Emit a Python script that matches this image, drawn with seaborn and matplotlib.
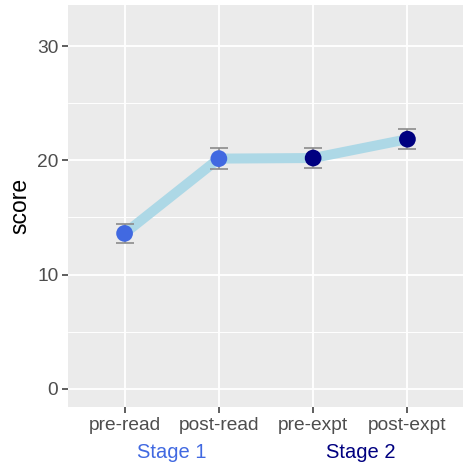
import matplotlib
matplotlib.use("Agg")
import matplotlib.pyplot as plt
import seaborn as sns
import pandas as pd
import numpy as np

conditions = ["pre-read", "post-read", "pre-expt", "post-expt"]
stages = ["Stage 1", "Stage 1", "Stage 2", "Stage 2"]
scores = [13.6, 20.15, 20.2, 21.85]
errors = [0.8, 0.9, 0.9, 0.85]
stage_colors = {"Stage 1": "#4169E1", "Stage 2": "#000080"}

df = pd.DataFrame({"condition": conditions, "stage": stages, "score": scores, "err": errors})

sns.set_theme(style="darkgrid")
plt.rcParams["font.family"] = ["Liberation Sans", "DejaVu Sans"]

fig = plt.figure(figsize=(4.64, 4.66), dpi=100)
ax = fig.add_axes([68/464, 1-407/466, 1-68/464, (407-5)/466])
ax.set_facecolor("#EBEBEB")

sns.lineplot(data=df, x="condition", y="score", color="#ADD8E6", linewidth=7.2, ax=ax, sort=False, zorder=2)
xpos = np.arange(len(conditions))
ax.errorbar(xpos, df["score"], yerr=df["err"], fmt="none", ecolor="#8C8C8C",
            elinewidth=1.2, capsize=6.8, capthick=1.2, zorder=3)
sns.scatterplot(data=df, x="condition", y="score", hue="stage", palette=stage_colors,
                s=145, edgecolor="none", legend=False, ax=ax, zorder=4)

ax.set_xlim(-0.6, 3.6)
ax.set_ylim(-1.6, 33.6)
ax.set_yticks([0, 10, 20, 30])
ax.set_yticks([5, 15, 25], minor=True)
ax.grid(which="major", color="white", linewidth=1.3)
ax.grid(which="minor", axis="y", color="white", linewidth=0.7)
ax.grid(which="minor", axis="x", visible=False)
ax.set_axisbelow(True)
for s in ax.spines.values():
    s.set_visible(False)
ax.tick_params(axis="both", which="major", length=4, width=1.1, color="#333333",
               labelcolor="#4D4D4D", labelsize=13.8, pad=3, bottom=True, left=True)
ax.tick_params(axis="both", which="minor", length=0)
ax.set_xlabel("")
ax.set_ylabel("score", fontsize=16.5, color="black", labelpad=4)

for st, col in stage_colors.items():
    idx = [i for i, s in enumerate(stages) if s == st]
    xm = np.mean(idx)
    ax.text(xm, -0.113, st, transform=ax.get_xaxis_transform(), ha="center", va="center",
            fontsize=14.5, color=col)

fig.savefig("out.png", dpi=100, facecolor="white")
